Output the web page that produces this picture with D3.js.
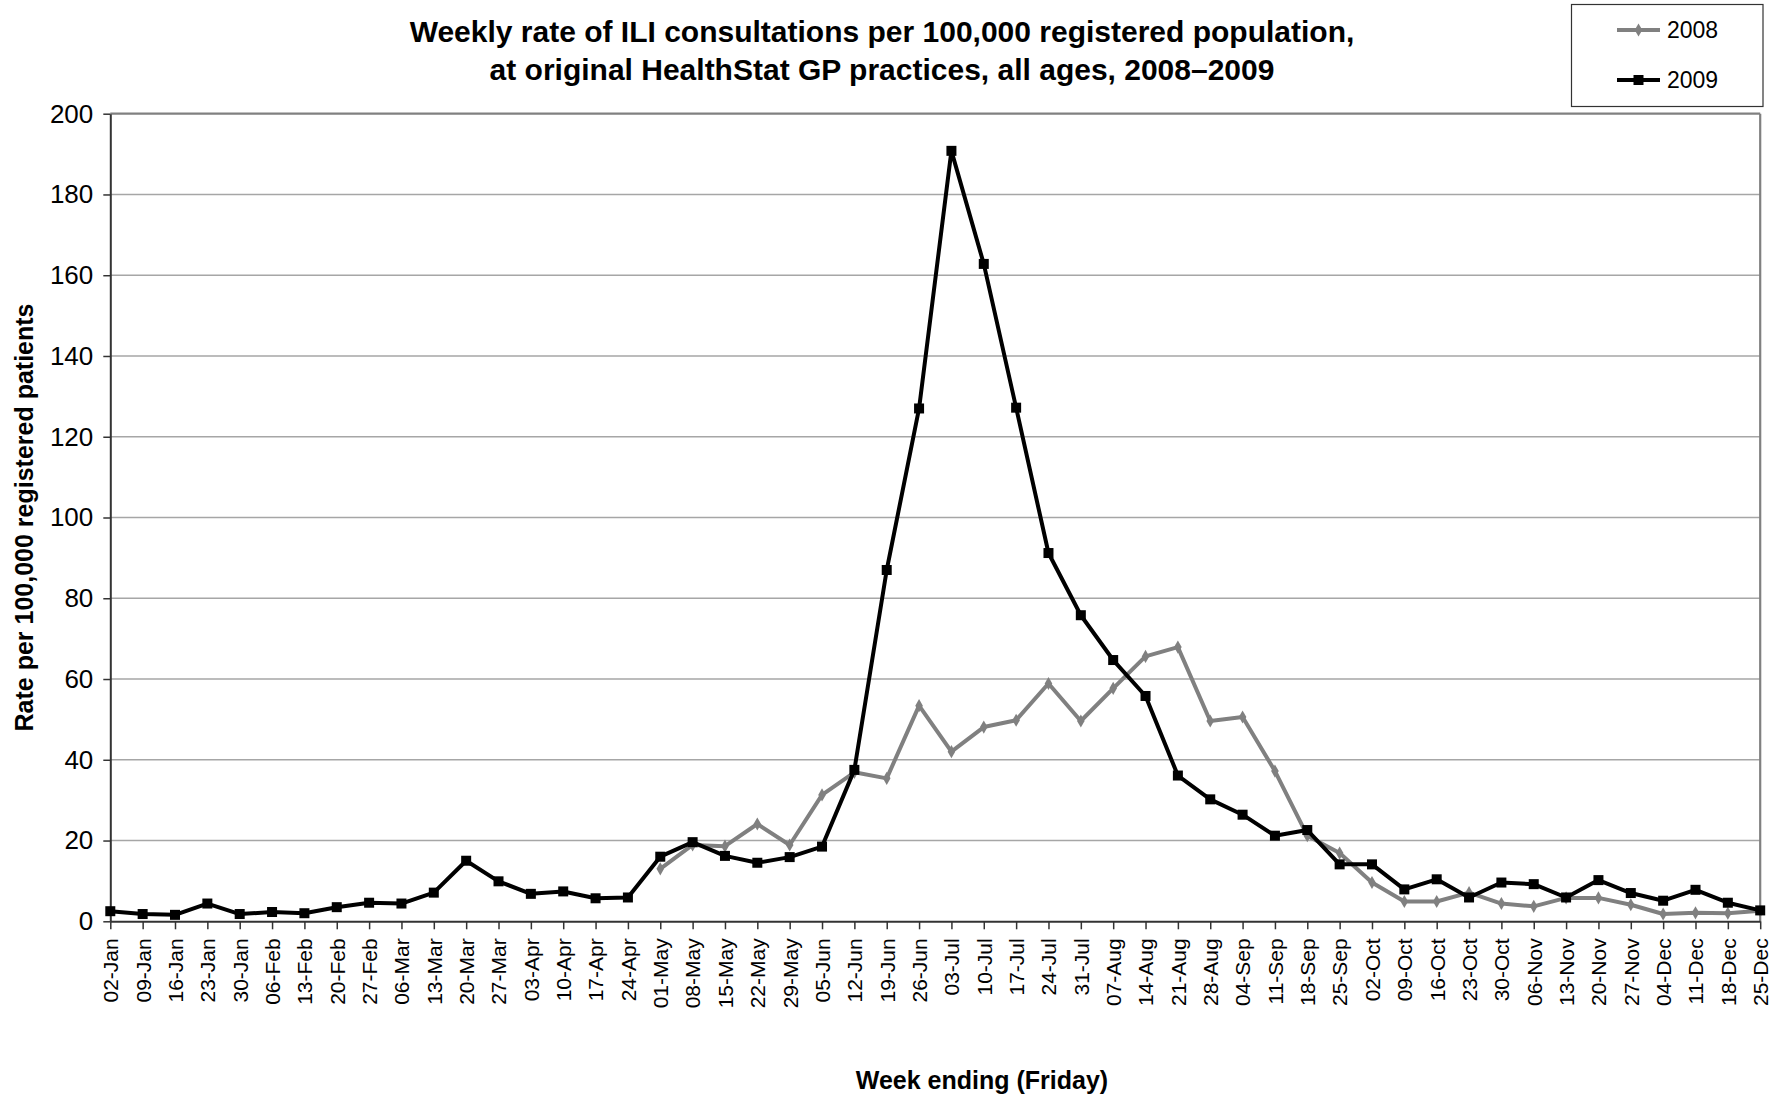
<!DOCTYPE html>
<html>
<head>
<meta charset="utf-8">
<script src="https://cdn.jsdelivr.net/npm/d3@7"></script>
<style>
  html, body { margin: 0; padding: 0; background: #fff; }
  svg { display: block; }
  text { font-family: "Liberation Sans", Arial, sans-serif; fill: #000; }
</style>
</head>
<body>
<svg id="chart" width="1783" height="1095"></svg>
<script>
const weeks = ["02-Jan","09-Jan","16-Jan","23-Jan","30-Jan","06-Feb","13-Feb","20-Feb","27-Feb","06-Mar","13-Mar","20-Mar","27-Mar","03-Apr","10-Apr","17-Apr","24-Apr","01-May","08-May","15-May","22-May","29-May","05-Jun","12-Jun","19-Jun","26-Jun","03-Jul","10-Jul","17-Jul","24-Jul","31-Jul","07-Aug","14-Aug","21-Aug","28-Aug","04-Sep","11-Sep","18-Sep","25-Sep","02-Oct","09-Oct","16-Oct","23-Oct","30-Oct","06-Nov","13-Nov","20-Nov","27-Nov","04-Dec","11-Dec","18-Dec","25-Dec"];

const rate2008 = [null,null,null,null,null,null,null,null,null,null,null,null,null,null,null,null,null,
  13.0,18.9,18.6,24.1,18.9,
  31.3,36.9,35.4,53.4,
  42.0,48.1,49.8,58.9,49.6,
  57.7,65.6,67.9,49.6,
  50.6,37.2,21.2,16.9,
  9.6,4.9,4.9,7.1,4.4,
  3.7,5.8,5.8,4.1,
  1.8,2.1,2.0,2.6];

const rate2009 = [2.5,1.8,1.6,4.4,1.8,
  2.3,2.0,3.5,4.6,
  4.4,7.1,15.0,9.9,
  6.8,7.4,5.7,5.9,
  16.0,19.6,16.2,14.5,15.9,
  18.5,37.5,87.0,127.0,
  190.8,162.8,127.2,91.2,75.8,
  64.7,55.8,36.1,30.2,
  26.4,21.2,22.6,14.1,
  14.1,7.9,10.4,5.9,9.6,
  9.2,5.9,10.2,7.0,
  5.1,7.8,4.6,2.7];

const yTicks = [0,20,40,60,80,100,120,140,160,180,200];
const seriesNames = ["2008","2009"];
const titleLines = ["Weekly rate of ILI consultations per 100,000 registered population,",
                    "at original HealthStat GP practices, all ages, 2008\u20132009"];
const yTitle = "Rate per 100,000 registered patients";
const xTitle = "Week ending (Friday)";

const svg = d3.select("#chart");
const L = 110.3, R = 1760.2, T = 113.7, B = 921.3;

const x = d3.scalePoint().domain(weeks).range([L, R]);
const y = d3.scaleLinear().domain([0, 200]).range([B, T]);

// gridlines
svg.append("g").selectAll("line")
  .data(yTicks.filter(v => v > 0))
  .join("line")
  .attr("x1", L).attr("x2", R)
  .attr("y1", d => y(d)).attr("y2", d => y(d))
  .attr("stroke", d => d === 200 ? "#808080" : "#a6a6a6")
  .attr("stroke-width", d => d === 200 ? 2.2 : 1.6);

// right border
svg.append("line").attr("x1", R).attr("x2", R).attr("y1", T).attr("y2", B)
  .attr("stroke", "#808080").attr("stroke-width", 2.2);

// y axis
const yAxis = svg.append("g").attr("transform", `translate(${L},0)`)
  .call(d3.axisLeft(y).tickValues(yTicks).tickSize(7).tickPadding(10).tickSizeOuter(0));
yAxis.select(".domain").attr("stroke", "#333").attr("stroke-width", 2);
yAxis.selectAll(".tick line").attr("stroke", "#333").attr("stroke-width", 1.5);
yAxis.selectAll(".tick text").attr("font-size", 26).attr("font-family", "Liberation Sans, Arial, sans-serif").attr("fill", "#000");

// x axis
const xAxis = svg.append("g").attr("transform", `translate(0,${B})`)
  .call(d3.axisBottom(x).tickSize(8).tickSizeOuter(0));
xAxis.select(".domain").attr("stroke", "#333").attr("stroke-width", 2);
xAxis.selectAll(".tick line").attr("stroke", "#333").attr("stroke-width", 1.5);
xAxis.selectAll(".tick text")
  .attr("font-size", 21)
  .attr("font-family", "Liberation Sans, Arial, sans-serif")
  .attr("fill", "#000")
  .attr("transform", "rotate(-90)")
  .attr("text-anchor", "end")
  .attr("x", -17).attr("y", 0).attr("dy", "0.35em");

// lines
const line = d3.line()
  .defined(d => d != null)
  .x((d, i) => x(weeks[i]))
  .y(d => y(d));

svg.append("path").datum(rate2008)
  .attr("d", line).attr("fill", "none")
  .attr("stroke", "#808080").attr("stroke-width", 4).attr("stroke-linejoin", "round");

const diamond = d3.symbol().type(d3.symbolDiamond).size(50);
svg.append("g").selectAll("path")
  .data(rate2008.map((v, i) => ({v, i})).filter(d => d.v != null))
  .join("path")
  .attr("d", diamond)
  .attr("transform", d => `translate(${x(weeks[d.i])},${y(d.v)})`)
  .attr("fill", "#808080");

svg.append("path").datum(rate2009)
  .attr("d", line).attr("fill", "none")
  .attr("stroke", "#000").attr("stroke-width", 4).attr("stroke-linejoin", "round");

svg.append("g").selectAll("rect")
  .data(rate2009.map((v, i) => ({v, i})))
  .join("rect")
  .attr("x", d => x(weeks[d.i]) - 5).attr("y", d => y(d.v) - 5)
  .attr("width", 10).attr("height", 10)
  .attr("fill", "#000");

// title
svg.append("g").selectAll("text")
  .data(titleLines)
  .join("text")
  .attr("x", 882).attr("y", (d, i) => 42 + i * 38)
  .attr("text-anchor", "middle")
  .attr("font-size", 30).attr("font-weight", "bold")
  .text(d => d);

// axis titles
svg.append("text")
  .attr("transform", `translate(33,${(T + B) / 2}) rotate(-90)`)
  .attr("text-anchor", "middle")
  .attr("font-size", 25).attr("font-weight", "bold")
  .text(yTitle);

svg.append("text")
  .attr("x", 982).attr("y", 1089)
  .attr("text-anchor", "middle")
  .attr("font-size", 25).attr("font-weight", "bold")
  .text(xTitle);

// legend
const lg = svg.append("g");
lg.append("rect").attr("x", 1571.5).attr("y", 4.5).attr("width", 191.5).attr("height", 102)
  .attr("fill", "#fff").attr("stroke", "#333").attr("stroke-width", 1.2);
const legendItems = [
  {name: seriesNames[0], color: "#808080", marker: "diamond", yy: 30},
  {name: seriesNames[1], color: "#000", marker: "square", yy: 80}
];
legendItems.forEach(it => {
  lg.append("line").attr("x1", 1617).attr("x2", 1660).attr("y1", it.yy).attr("y2", it.yy)
    .attr("stroke", it.color).attr("stroke-width", 4);
  if (it.marker === "diamond") {
    lg.append("path").attr("d", diamond).attr("transform", `translate(1638.5,${it.yy})`).attr("fill", it.color);
  } else {
    lg.append("rect").attr("x", 1633.5).attr("y", it.yy - 5).attr("width", 10).attr("height", 10).attr("fill", it.color);
  }
  lg.append("text").attr("x", 1667).attr("y", it.yy).attr("dy", "0.36em")
    .attr("font-size", 23).text(it.name);
});
</script>
</body>
</html>
